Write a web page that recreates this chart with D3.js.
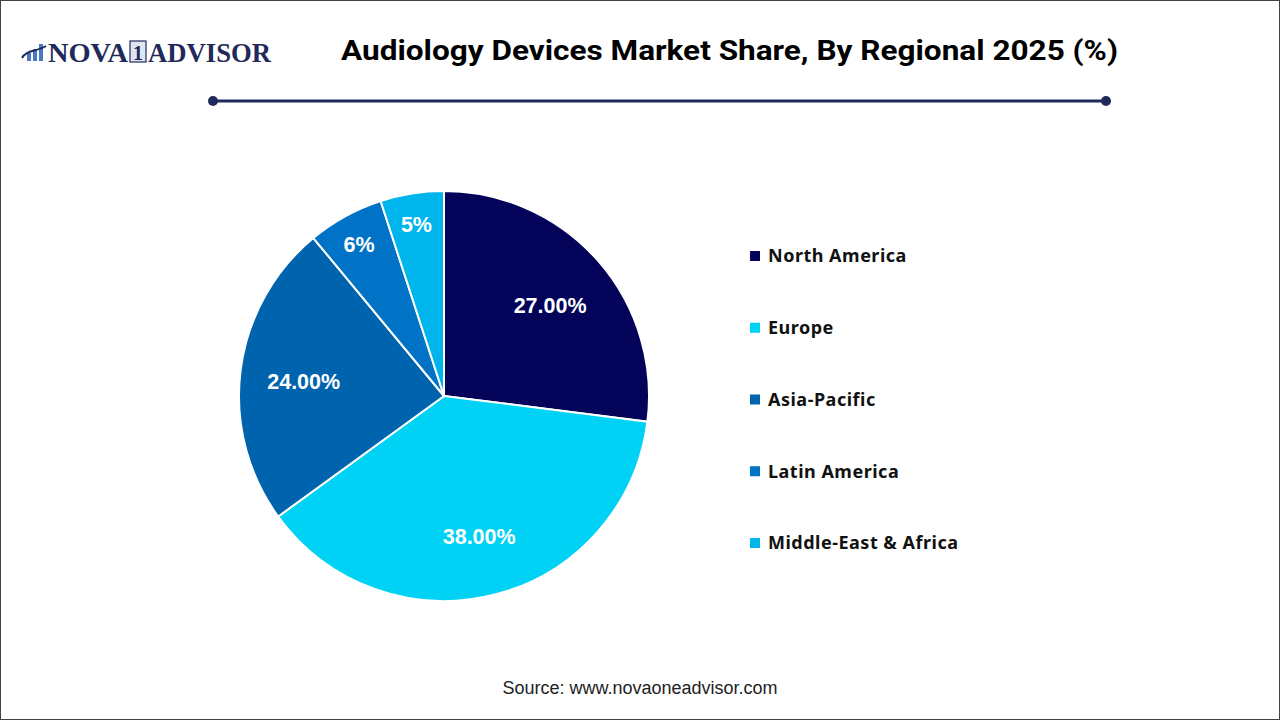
<!DOCTYPE html>
<html>
<head>
<meta charset="utf-8">
<script src="https://cdn.jsdelivr.net/npm/d3@7"></script>
<style>
  html, body { margin: 0; padding: 0; background: #fff; }
  svg { display: block; }
</style>
</head>
<body>
<div id="root"></div>
<script>
// chart data
var regions = ['North America', 'Europe', 'Asia-Pacific', 'Latin America', 'Middle-East & Africa']
var shares = [27, 38, 24, 6, 5]
var labels = ['27.00%', '38.00%', '24.00%', '6%', '5%']
var colors = ['#03035a', '#00d2f5', '#0063ad', '#0073c6', '#00b4ec']

var width = 1280, height = 720
var svg = d3.select('#root').append('svg')
    .attr('width', width)
    .attr('height', height)

// frame
svg.append('rect')
    .attr('x', 0.5).attr('y', 0.5)
    .attr('width', width - 1).attr('height', height - 1)
    .attr('fill', '#fff')
    .attr('stroke', '#444')
    .attr('stroke-width', 1)

// logo
var logo = svg.append('g').attr('class', 'logo')
var barH = [8, 12, 17]
logo.selectAll('rect.bar')
    .data(barH)
    .enter()
    .append('rect')
    .attr('class', 'bar')
    .attr('x', function (d, i) { return 27 + i * 6 })
    .attr('y', function (d) { return 61 - d })
    .attr('width', 4)
    .attr('height', function (d) { return d })
    .attr('fill', '#4a78c2')
logo.append('path')
    .attr('d', 'M22,58 C26,50 36,52 46,46')
    .attr('fill', 'none')
    .attr('stroke', '#1f2a5a')
    .attr('stroke-width', 2)
logo.append('text')
    .attr('x', 48).attr('y', 62)
    .attr('font-family', '"Liberation Serif", "DejaVu Serif", serif')
    .attr('font-weight', 'bold')
    .attr('font-size', 27)
    .attr('fill', '#1f2a5a')
    .attr('textLength', 80)
    .attr('lengthAdjust', 'spacingAndGlyphs')
    .text('NOVA')
logo.append('rect')
    .attr('x', 130).attr('y', 41)
    .attr('width', 16).attr('height', 21)
    .attr('fill', '#dfe6f2')
    .attr('stroke', '#1f2a5a')
    .attr('stroke-width', 1.2)
logo.append('text')
    .attr('x', 138).attr('y', 60)
    .attr('text-anchor', 'middle')
    .attr('font-family', '"Liberation Serif", "DejaVu Serif", serif')
    .attr('font-weight', 'bold')
    .attr('font-size', 20)
    .attr('fill', '#1f2a5a')
    .text('1')
logo.append('text')
    .attr('x', 148).attr('y', 62)
    .attr('font-family', '"Liberation Serif", "DejaVu Serif", serif')
    .attr('font-weight', 'bold')
    .attr('font-size', 27)
    .attr('fill', '#1f2a5a')
    .attr('textLength', 123)
    .attr('lengthAdjust', 'spacingAndGlyphs')
    .text('ADVISOR')

// title
svg.append('text')
    .attr('x', 341).attr('y', 60)
    .attr('font-family', '"Liberation Sans Narrow", "Roboto", "Liberation Sans", sans-serif')
    .attr('font-weight', 'bold')
    .attr('font-size', 27)
    .attr('fill', '#000')
    .attr('textLength', 777)
    .attr('lengthAdjust', 'spacingAndGlyphs')
    .text('Audiology Devices Market Share, By Regional 2025 (%)')

// divider line
var lineG = svg.append('g').attr('class', 'divider')
lineG.append('line')
    .attr('x1', 213).attr('x2', 1106)
    .attr('y1', 101).attr('y2', 101)
    .attr('stroke', '#1f2a5a')
    .attr('stroke-width', 3)
lineG.selectAll('circle')
    .data([213, 1106])
    .enter()
    .append('circle')
    .attr('cx', function (d) { return d })
    .attr('cy', 101)
    .attr('r', 5)
    .attr('fill', '#1f2a5a')

// pie
var cx = 444, cy = 396, R = 205
var pie = d3.pie().sort(null).value(function (d) { return d })
var arcs = pie(shares)
var arc = d3.arc().innerRadius(0).outerRadius(R)
var pieG = svg.append('g')
    .attr('class', 'pie')
    .attr('transform', 'translate(' + cx + ',' + cy + ')')
pieG.selectAll('path')
    .data(arcs)
    .enter()
    .append('path')
    .attr('d', arc)
    .attr('fill', function (d, i) { return colors[i] })
    .attr('stroke', '#fff')
    .attr('stroke-width', 2)

pieG.selectAll('text')
    .data(arcs)
    .enter()
    .append('text')
    .attr('transform', function (d) {
        var r = d.value < 10 ? R * 0.86 : R * 0.69
        var c = d3.arc().innerRadius(r).outerRadius(r).centroid(d)
        return 'translate(' + c[0] + ',' + (c[1] + 3) + ')'
    })
    .attr('text-anchor', 'middle')
    .attr('dy', '0.35em')
    .attr('font-family', '"Liberation Sans", Arial, sans-serif')
    .attr('font-weight', 'bold')
    .attr('font-size', 21.5)
    .attr('fill', '#fff')
    .text(function (d, i) { return labels[i] })

// legend
var legend = svg.append('g').attr('class', 'legend')
var ly = d3.scalePoint().domain(regions).range([256, 543])
var item = legend.selectAll('g')
    .data(regions)
    .enter()
    .append('g')
    .attr('transform', function (d) { return 'translate(750,' + ly(d) + ')' })
item.append('rect')
    .attr('x', 0).attr('y', -5)
    .attr('width', 10).attr('height', 10)
    .attr('fill', function (d, i) { return colors[i] })
item.append('text')
    .attr('x', 18)
    .attr('dy', '0.35em')
    .attr('font-family', '"Noto Sans", "Open Sans", sans-serif')
    .attr('font-weight', 'bold')
    .attr('font-size', 18)
    .attr('letter-spacing', 0.5)
    .attr('fill', '#111')
    .text(function (d) { return d })

// source
svg.append('text')
    .attr('x', 640).attr('y', 694)
    .attr('text-anchor', 'middle')
    .attr('font-family', '"Liberation Sans", Arial, sans-serif')
    .attr('font-size', 18)
    .attr('fill', '#222')
    .text('Source: www.novaoneadvisor.com')
</script>
</body>
</html>
